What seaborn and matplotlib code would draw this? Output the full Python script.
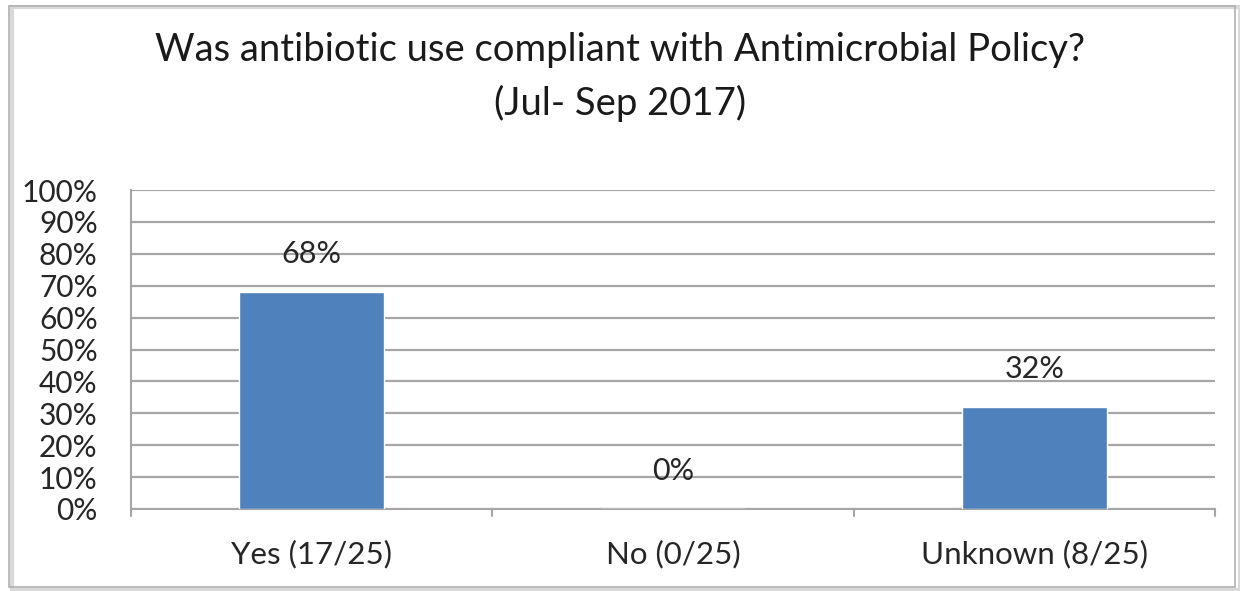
import matplotlib
matplotlib.use("Agg")
import matplotlib.pyplot as plt
from matplotlib.patches import Rectangle
import seaborn as sns
import pandas as pd

categories = ["Yes (17/25)", "No (0/25)", "Unknown (8/25)"]
values = [68, 0, 32]
value_labels = ["68%", "0%", "32%"]
y_ticks = [0, 10, 20, 30, 40, 50, 60, 70, 80, 90, 100]
y_tick_labels = [f"{t}%" for t in y_ticks]
title_line1 = "Was antibiotic use compliant with Antimicrobial Policy?"
title_line2 = "(Jul- Sep 2017)"

sns.set_theme(style="white")
plt.rcParams["font.family"] = ["Lato", "DejaVu Sans"]

df = pd.DataFrame({"category": categories, "value": values})

fig = plt.figure(figsize=(12.4, 5.91), dpi=100)
ax = fig.add_axes([131 / 1240, 1 - 509 / 591, (1215 - 131) / 1240, (509 - 190) / 591])

sns.barplot(data=df, x="category", y="value", color="#4F81BD", width=0.40,
            saturation=1, ax=ax, zorder=3)

ax.set_ylim(0, 100)
ax.set_xlim(-0.5, 2.5)
ax.set_yticks(y_ticks)
ax.set_yticklabels(y_tick_labels, fontsize=21.5, color="#262626")
ax.tick_params(axis="y", length=10, width=1.5, color="#A6A6A6", pad=14)
ax.tick_params(axis="x", length=0, pad=22, labelsize=22.5, labelcolor="#262626")
ax.set_xlabel("")
ax.set_ylabel("")

for t in y_ticks:
    ax.axhline(t, color="#A6A6A6", lw=1.6, zorder=1)

for s in ["top", "right"]:
    ax.spines[s].set_visible(False)
ax.spines["left"].set_color("#A6A6A6")
ax.spines["left"].set_linewidth(1.5)
ax.spines["bottom"].set_color("#A6A6A6")
ax.spines["bottom"].set_linewidth(1.5)

# category boundary ticks below the x axis
for b in [-0.5, 0.5, 1.5, 2.5]:
    ax.plot([b, b], [0, -2.3], color="#A6A6A6", lw=1.5, clip_on=False, zorder=2)

for i, (v, lab) in enumerate(zip(values, value_labels)):
    ax.annotate(lab, xy=(i, v), xytext=(0, 24), textcoords="offset pixels",
                ha="center", va="bottom", fontsize=22, color="#262626")

fig.text(0.5, 1 - 50 / 591, title_line1, ha="center", va="center",
         fontsize=27.5, color="#1a1a1a")
fig.text(0.5, 1 - 103 / 591, title_line2, ha="center", va="center",
         fontsize=27.5, color="#1a1a1a")

# chart frame with a light shadow
fig.patches.append(Rectangle((12 / 1240, 1 - 590 / 591), 1228 / 1240, 583 / 591,
                             transform=fig.transFigure, facecolor="none",
                             edgecolor="#D9D9D9", lw=3, zorder=0))
fig.patches.append(Rectangle((9 / 1240, 1 - 587 / 591), 1226 / 1240, 581 / 591,
                             transform=fig.transFigure, facecolor="none",
                             edgecolor="#B0B0B0", lw=1.2, zorder=1))

fig.savefig("out.png", dpi=100, facecolor="white")
